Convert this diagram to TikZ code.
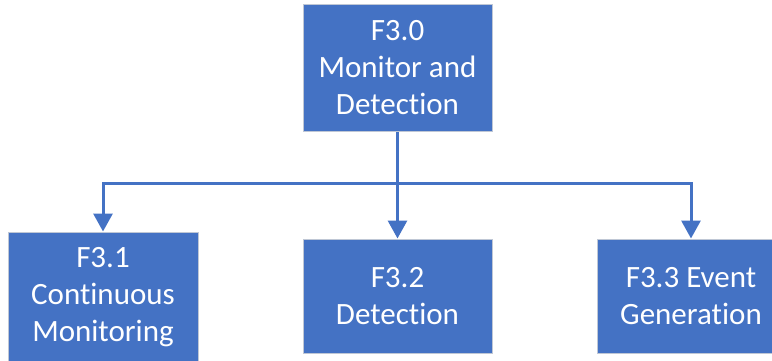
\documentclass[tikz,border=0pt]{standalone}
\usepackage{fontspec}
\setmainfont[Ligatures=NoCommon]{Carlito}
\usetikzlibrary{arrows.meta}
\definecolor{boxblue}{HTML}{4472C4}
\definecolor{boxedge}{HTML}{BFC7D5}
\begin{document}
\begin{tikzpicture}[x=1pt,y=1pt,
  fbox/.style={rectangle, fill=boxblue, draw=boxedge, line width=1pt,
    text=white, align=center, inner sep=0pt,
    font=\fontsize{31}{37}\selectfont},
  conn/.style={draw=boxblue, line width=3pt,
    -{Triangle[width=19pt,length=18pt]}}]
\useasboundingbox (0,0) rectangle (772,-360);
% parent function
\node[fbox, minimum width=189pt, minimum height=127pt] (top) at (397.5,-68)
  {F3.0\\Monitor and\\Detection};
% sub-functions
\node[fbox, minimum width=190pt, minimum height=130pt] (c1) at (103,-297)
  {F3.1\\Continuous\\Monitoring};
\node[fbox, minimum width=189pt, minimum height=114pt] (c2) at (397.5,-296)
  {F3.2\\Detection};
\node[fbox, minimum width=188pt, minimum height=114pt] (c3) at (691,-296)
  {F3.3 Event\\Generation};
% bus line height
\coordinate (bus) at (0,-183.5);
\draw[conn] (top.south) -- (top.south |- bus) -| (c1.north);
\draw[conn] (top.south) -- (c2.north);
\draw[conn] (top.south) -- (top.south |- bus) -| (c3.north);
\end{tikzpicture}
\end{document}
